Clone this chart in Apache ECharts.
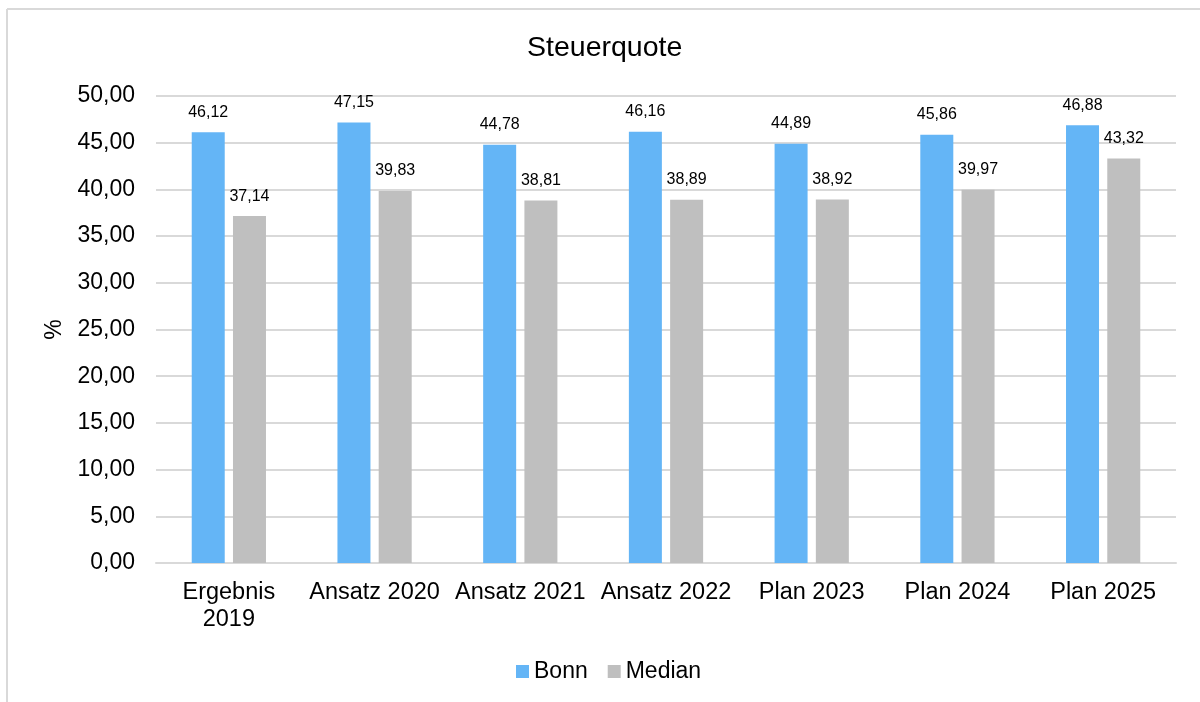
<!DOCTYPE html>
<html>
<head>
<meta charset="utf-8">
<script src="https://cdn.jsdelivr.net/npm/echarts@6/dist/echarts.min.js"></script>
<style>
  html, body { margin: 0; padding: 0; background: #fff; }
  #chart { width: 1200px; height: 702px; }
</style>
</head>
<body>
<div id="chart"></div>
<script>
// Tax ratio (Steuerquote): Bonn compared with the median
const categories = ['Ergebnis\n2019', 'Ansatz 2020', 'Ansatz 2021', 'Ansatz 2022', 'Plan 2023', 'Plan 2024', 'Plan 2025'];
const bonnValues = [46.12, 47.15, 44.78, 46.16, 44.89, 45.86, 46.88];
const medianValues = [37.14, 39.83, 38.81, 38.89, 38.92, 39.97, 43.32];

const FONT = '"Liberation Sans", Arial, sans-serif';
const fmt = v => v.toFixed(2).replace('.', ',');

const chart = echarts.init(document.getElementById('chart'), null, { renderer: 'canvas' });

const valueLabel = {
  show: true,
  position: 'top',
  distance: 12,
  color: '#000',
  fontFamily: FONT,
  fontSize: 16,
  formatter: p => fmt(p.value)
};

chart.setOption({
  backgroundColor: '#fff',
  animation: false,
  title: {
    text: 'Steuerquote',
    left: 527,
    top: 34,
    padding: 0,
    textStyle: { fontFamily: FONT, fontSize: 28.5, fontWeight: 'normal', color: '#000' }
  },
  legend: {
    bottom: 14,
    left: 511,
    itemWidth: 13,
    itemHeight: 13,
    itemGap: 20,
    icon: 'rect',
    textStyle: { fontFamily: FONT, fontSize: 23, color: '#000' },
    data: ['Bonn', 'Median']
  },
  grid: { left: 156, right: 24, top: 96, bottom: 139, containLabel: false },
  xAxis: {
    type: 'category',
    data: categories,
    axisLine: { lineStyle: { color: '#D9D9D9', width: 2 } },
    axisTick: { show: false },
    axisLabel: { fontFamily: FONT, fontSize: 23.5, color: '#000', margin: 16, lineHeight: 27, interval: 0 }
  },
  yAxis: {
    type: 'value',
    min: 0,
    max: 50,
    interval: 5,
    name: '%',
    nameLocation: 'middle',
    nameGap: 89,
    nameRotate: 90,
    nameTextStyle: { fontFamily: FONT, fontSize: 23, color: '#000' },
    axisLine: { show: false },
    axisTick: { show: false },
    splitLine: { lineStyle: { color: '#D9D9D9', width: 2 } },
    axisLabel: { fontFamily: FONT, fontSize: 23, color: '#000', margin: 21, formatter: v => fmt(v) }
  },
  series: [
    {
      name: 'Bonn',
      type: 'bar',
      data: bonnValues,
      barWidth: 33,
      barGap: '25%',
      itemStyle: { color: '#64B5F6' },
      label: valueLabel
    },
    {
      name: 'Median',
      type: 'bar',
      data: medianValues,
      barWidth: 33,
      itemStyle: { color: '#BFBFBF' },
      label: valueLabel
    }
  ],
  graphic: [
    { type: 'line', shape: { x1: 7, y1: 9, x2: 1200, y2: 9 }, style: { stroke: '#D9D9D9', lineWidth: 2 }, silent: true },
    { type: 'line', shape: { x1: 7, y1: 9, x2: 7, y2: 702 }, style: { stroke: '#D9D9D9', lineWidth: 2 }, silent: true }
  ]
});
</script>
</body>
</html>
